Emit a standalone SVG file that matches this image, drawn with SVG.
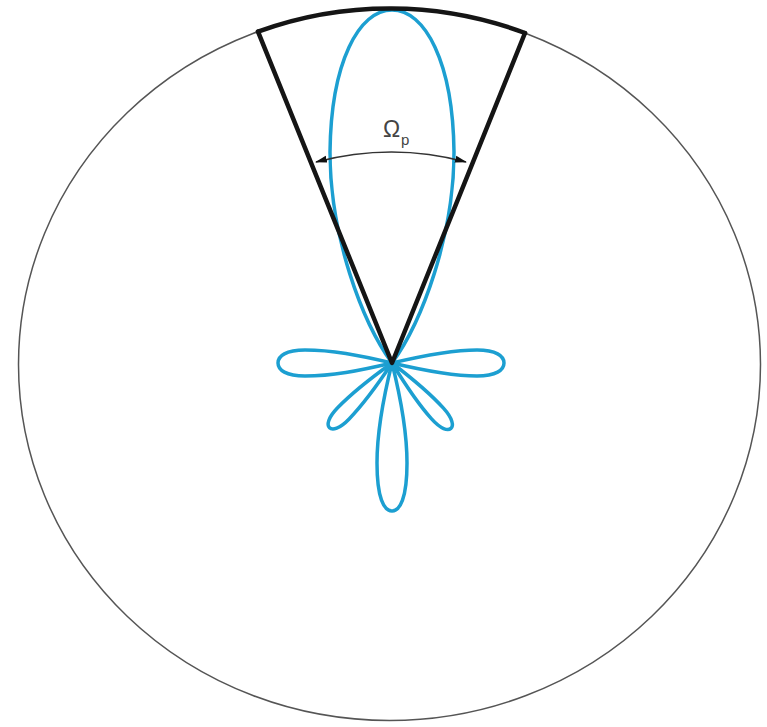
<svg xmlns="http://www.w3.org/2000/svg" width="767" height="727" viewBox="0 0 767 727">
  <style>
    .lobe { fill: none; stroke: #1c9fd1; stroke-width: 3.5; stroke-linejoin: round; }
    .cone { fill: none; stroke: #151515; stroke-width: 4.5; stroke-linecap: round; stroke-linejoin: round; }
    .sphere { fill: none; stroke: #555; stroke-width: 1.5; }
    .angle { fill: none; stroke: #333; stroke-width: 1.3; }
    .lbl { font-family: "Liberation Sans", Arial, sans-serif; fill: #444; }
  </style>
  <defs>
    <marker id="ah" viewBox="0 0 12 8" refX="11" refY="4" markerWidth="12" markerHeight="8" markerUnits="userSpaceOnUse" orient="auto-start-reverse">
      <path d="M0,0.5 L12,4 L0,7.5 Z" fill="#111"/>
    </marker>
  </defs>
  <rect width="767" height="727" fill="#fff"/>
  <g id="sphere">
    <ellipse class="sphere" cx="389.5" cy="364.5" rx="371" ry="356"/>
  </g>
  <g id="pattern">
    <path id="main-lobe" class="lobe" d="M392,363 C422,322 454,236 454,152 C453,62 425,10 392,10 C359,10 331,62 330,152 C330,236 362,322 392,363 Z"/>
    <g transform="translate(392,363) rotate(0)">
      <path class="lobe" d="M0,0 C34,-8 60,-13 85,-13 C104,-13 112,-7 112,0 C112,7 104,13 85,13 C60,13 34,8 0,0 Z"/>
    </g>
    <g transform="translate(392,363) rotate(180)">
      <path class="lobe" d="M0,0 C34,-8 60,-13 87,-13 C106,-13 114,-7 114,0 C114,7 106,13 87,13 C60,13 34,8 0,0 Z"/>
    </g>
    <g transform="translate(392,363) rotate(48)">
      <path class="lobe" d="M0,0 C27,-5 47,-8 68,-8 C82,-8 88,-4 88,0 C88,4 82,8 68,8 C47,8 27,5 0,0 Z"/>
    </g>
    <g transform="translate(392,363) rotate(134)">
      <path class="lobe" d="M0,0 C27,-5 47,-8 70,-8 C84,-8 90,-4 90,0 C90,4 84,8 70,8 C47,8 27,5 0,0 Z"/>
    </g>
    <g transform="translate(392,363) rotate(90)">
      <path class="lobe" d="M0,0 C40,-10 70,-15 100,-15 C135,-15 148,-8 148,0 C148,8 135,15 100,15 C70,15 40,10 0,0 Z"/>
    </g>
  </g>
  <g id="cone">
    <path class="cone" d="M258,31.6 L392,363 L525,33"/>
    <path class="cone" d="M258,31.6 A371,356 0 0 1 525,33"/>
  </g>
  <g id="connectors">
    <path class="angle" d="M316,162 Q392,142 466,162" marker-start="url(#ah)" marker-end="url(#ah)"/>
  </g>
  <g id="label">
    <text class="lbl" x="383" y="137" font-size="23">Ω</text>
    <text class="lbl" x="401" y="145" font-size="15">p</text>
  </g>
</svg>
